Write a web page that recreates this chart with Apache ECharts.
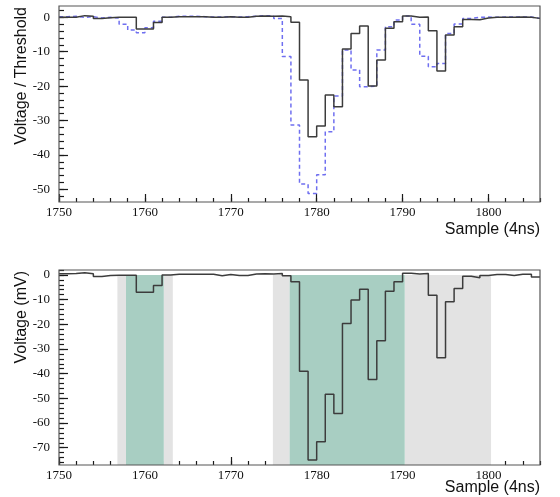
<!DOCTYPE html>
<html><head><meta charset="utf-8">
<script src="https://cdn.jsdelivr.net/npm/echarts@6/dist/echarts.min.js"></script>
<style>html,body{margin:0;padding:0;background:#fff}#c{width:560px;height:497px}</style>
</head><body><div id="c"></div>
<script>
// ---- data (one value per bin, bins start at 1750, width 1) ----
const binStart = 1750;
const ratioSolid = [0,0,0.5,0.3,-0.3,-0.1,0,0,0,-3.4,-3.4,-1.5,0,0.2,0.2,0.2,0.2,0,0,0.2,0,0,0.3,0.4,0.3,0.4,0.2,-1.4,-18.2,-34.7,-31.6,-22.6,-26,-9.2,-4.7,-2.5,-20,-12.4,-3.2,-1.3,0.4,0,0.1,-3.9,-15.6,-5.1,-2.7,-0.6,-0.7,-0.2,0,0,0,0.1,0,-0.3];
const ratioDashed = [0.2,0.3,0,0.2,-0.2,0,-0.2,-2,-3.7,-4.5,-3,-1.1,0,0.3,0.3,0.3,0.2,0.1,0.1,0.2,0.1,0.2,0.3,0.5,0.4,-0.3,-11.4,-31.3,-48.5,-51.2,-45.8,-33.3,-22.9,-9.5,-15.3,-20.2,-20,-9.5,-2.7,-0.8,0.4,-2,-11.3,-14.4,-13.4,-4.7,-1.9,-0.3,0,0.1,0,0.1,0.1,0.1,0.1,-0.3];
const voltage = [0.5,0.6,0.9,0.5,-0.6,-0.2,-0.1,-0.1,-0.1,-7,-7,-4.3,0,0.3,0.3,0.3,0.3,0.3,-0.3,0.2,-0.2,-0.2,0.4,0.5,0.4,0.6,-0.3,-2.8,-39,-75,-67.6,-48.3,-56.1,-19.7,-10.2,-5.8,-42.4,-26.7,-6.6,-2.8,0.7,0.4,0.6,-8.2,-33.6,-10.9,-5.5,-0.5,-1.1,-0.2,0.2,0.2,-0.2,0.3,0.3,-0.8];
const grayRegions = [[1756.8,1757.8],[1762.2,1763.25],[1774.9,1776.85],[1790.25,1800.3]];
const greenRegions = [[1757.8,1762.2],[1776.85,1790.25]];
const xMajorTicks = [1750,1760,1770,1780,1790,1800];
const topYTicks = [0,-10,-20,-30,-40,-50];
const botYTicks = [0,-10,-20,-30,-40,-50,-60,-70];
const xMin = 1750, xMax = 1806;
const topMin = -53.7, topMax = 3.3;
const botMin = -77, botMax = 2;

function minorTicks(a, b, step) { const r = []; for (let v = Math.ceil(a/step)*step; v <= b + 1e-9; v += step) r.push(+v.toFixed(6)); return r; }
function toSteps(vals) { const d = vals.map((v,i)=>[binStart+i, v]); d.push([binStart+vals.length, vals[vals.length-1]]); return d; }

const serif = 'Liberation Serif';
const sans = 'Liberation Sans';
const axisCol = '#1a1a1a';
const fmt = v => String(Math.round(v));

function xAxes(gi) {
  return [
    {type:'value', gridIndex:gi, min:xMin, max:xMax, position:'bottom', offset:0,
     axisLine:{show:false, onZero:false}, splitLine:{show:false},
     axisTick:{show:true, inside:true, length:8, customValues:xMajorTicks, lineStyle:{color:axisCol, width:1.2}},
     axisLabel:{show:true, customValues:xMajorTicks, formatter:fmt, fontFamily:serif, fontSize:13, color:'#111', margin:4}},
    {type:'value', gridIndex:gi, min:xMin, max:xMax, position:'bottom', offset:0,
     axisLine:{show:false, onZero:false}, splitLine:{show:false}, axisLabel:{show:false},
     axisTick:{show:true, inside:true, length:4, customValues:minorTicks(xMin,xMax,2), lineStyle:{color:axisCol, width:1.2}}}
  ];
}
function yAxes(gi, mn, mx, major) {
  return [
    {type:'value', gridIndex:gi, min:mn, max:mx, position:'left', offset:0,
     axisLine:{show:false, onZero:false}, splitLine:{show:false},
     axisTick:{show:true, inside:true, length:9, customValues:major, lineStyle:{color:axisCol, width:1.2}},
     axisLabel:{show:true, customValues:major, formatter:fmt, fontFamily:serif, fontSize:13, color:'#111', margin:9}},
    {type:'value', gridIndex:gi, min:mn, max:mx, position:'left', offset:0,
     axisLine:{show:false, onZero:false}, splitLine:{show:false}, axisLabel:{show:false},
     axisTick:{show:true, inside:true, length:5, customValues:minorTicks(mn,mx,2), lineStyle:{color:axisCol, width:1.2}}}
  ];
}

const areaData = [];
grayRegions.forEach(r => areaData.push([{xAxis:r[0], yAxis:0, itemStyle:{color:'#e3e3e3', opacity:1}}, {xAxis:r[1], yAxis:botMin}]));
greenRegions.forEach(r => areaData.push([{xAxis:r[0], yAxis:0, itemStyle:{color:'#a8cec2', opacity:1}}, {xAxis:r[1], yAxis:botMin}]));

const chart = echarts.init(document.getElementById('c'), null, {renderer:'canvas'});
chart.setOption({
  animation:false,
  backgroundColor:'#fff',
  grid:[
    {left:59, top:6, width:481, height:196, show:true, z:10, backgroundColor:'transparent', borderColor:'#555', borderWidth:1.2},
    {left:59, top:270, width:481, height:195, show:true, z:10, backgroundColor:'transparent', borderColor:'#555', borderWidth:1.2}
  ],
  xAxis: xAxes(0).concat(xAxes(1)),
  yAxis: yAxes(0, topMin, topMax, topYTicks).concat(yAxes(1, botMin, botMax, botYTicks)),
  series:[
    {type:'line', xAxisIndex:0, yAxisIndex:0, step:'end', showSymbol:false, symbol:'none', z:3,
     data:toSteps(ratioDashed), lineStyle:{color:'#6f6ff0', width:1.5, type:[4,3]}},
    {type:'line', xAxisIndex:0, yAxisIndex:0, step:'end', showSymbol:false, symbol:'none', z:4,
     data:toSteps(ratioSolid), lineStyle:{color:'#3c3c3c', width:1.5}},
    {type:'line', xAxisIndex:2, yAxisIndex:2, data:[], z:1, silent:true,
     markArea:{silent:true, data:areaData}},
    {type:'line', xAxisIndex:2, yAxisIndex:2, step:'end', showSymbol:false, symbol:'none', z:4,
     data:toSteps(voltage), lineStyle:{color:'#3c3c3c', width:1.5}}
  ],
  graphic:[
    {type:'text', x:22, y:7, rotation:Math.PI/2, style:{text:'Voltage / Threshold', fontFamily:sans, fontSize:16, fill:'#111', align:'right', verticalAlign:'middle'}},
    {type:'text', x:22, y:271, rotation:Math.PI/2, style:{text:'Voltage (mV)', fontFamily:sans, fontSize:16, fill:'#111', align:'right', verticalAlign:'middle'}},
    {type:'text', x:540, y:230, style:{text:'Sample (4ns)', fontFamily:sans, fontSize:16, fill:'#111', align:'right', verticalAlign:'middle'}},
    {type:'text', x:540, y:488, style:{text:'Sample (4ns)', fontFamily:sans, fontSize:16, fill:'#111', align:'right', verticalAlign:'middle'}}
  ]
});
</script></body></html>
